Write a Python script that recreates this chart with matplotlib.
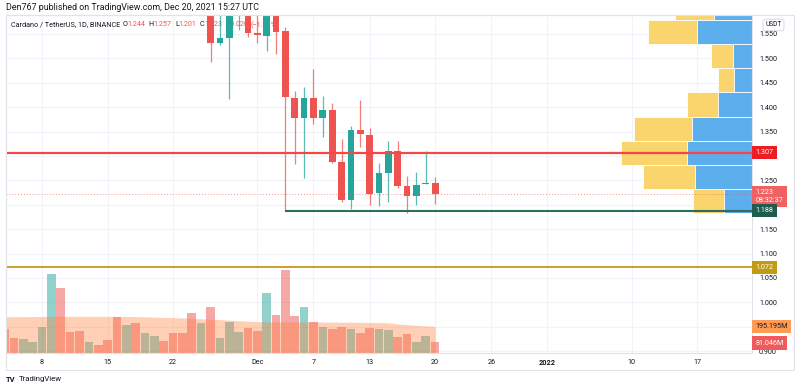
import numpy as np
import matplotlib
matplotlib.use("Agg")
import matplotlib.pyplot as plt
import matplotlib.dates as mdates
from matplotlib.transforms import Affine2D, blended_transform_factory, offset_copy
from matplotlib.patches import Rectangle

plt.rcParams['font.family'] = ['Roboto', 'DejaVu Sans']

# ADA/USDT daily candles that reach into the visible price range
candle_dates = np.arange('2021-11-26', '2021-12-21', dtype='datetime64[D]')
opens = [1.620, 1.531, 1.541, 1.600, 1.625, 1.553, 1.546, 1.600, 1.557, 1.418, 1.377, 1.419, 1.377,
         1.395, 1.287, 1.210, 1.353, 1.344, 1.224, 1.266, 1.310, 1.239, 1.218, 1.242, 1.244]
highs = [1.660, 1.600, 1.620, 1.660, 1.640, 1.600, 1.620, 1.630, 1.565, 1.434, 1.441, 1.478, 1.422,
         1.409, 1.334, 1.361, 1.415, 1.357, 1.285, 1.331, 1.331, 1.258, 1.267, 1.311, 1.257]
lows = [1.493, 1.528, 1.416, 1.558, 1.543, 1.531, 1.516, 1.508, 1.188, 1.284, 1.255, 1.365, 1.338,
        1.286, 1.206, 1.191, 1.319, 1.200, 1.198, 1.205, 1.234, 1.183, 1.200, 1.242, 1.201]
closes = [1.532, 1.541, 1.600, 1.625, 1.553, 1.547, 1.600, 1.555, 1.420, 1.377, 1.419, 1.377, 1.395,
          1.288, 1.210, 1.353, 1.345, 1.222, 1.266, 1.310, 1.239, 1.217, 1.241, 1.244, 1.223]

# volume (millions USDT), 1 = up day
vol_dates = np.arange('2021-11-04', '2021-12-21', dtype='datetime64[D]')
volumes = [173, 107, 102, 80, 190, 577, 477, 151, 161, 80, 58, 93, 265, 207, 219, 146, 124, 88,
           146, 146, 290, 217, 336, 107, 228, 155, 185, 158, 440, 277, 608, 270, 336, 226, 188,
           173, 190, 177, 148, 183, 173, 168, 117, 139, 80, 122, 81.046]
vol_up = [0, 0, 1, 1, 1, 1, 0, 0, 0, 1, 0, 0, 0, 1, 0, 1, 1, 0, 0, 0, 0, 1, 0, 1, 1, 1, 0, 0, 1,
          0, 0, 0, 1, 0, 1, 0, 0, 1, 0, 0, 1, 1, 0, 0, 1, 1, 0]
vol_ma = [265, 265, 266, 266, 267, 267, 268, 268, 268, 268, 268, 268, 267, 267, 266,
          264, 262, 260, 258, 256, 253, 250,
          247, 244, 240, 236, 232, 229, 228,
          228, 228, 227, 227, 227, 226, 226, 225, 225, 224, 223, 222, 221,
          212, 207, 203, 199, 195.195]

# visible range volume profile (rows from the bottom), relative volume
vp_low = 1.1826
vp_step = 0.0495
vp_total = [59.3, 109, 131.3, 118.3, 65.3, 33.7, 40.7, 104.3, 77]
vp_up = [28, 57, 65.3, 59.7, 33.7, 18, 18.7, 54.7, 37.7]
vp_span = 746

# levels
resistance = 1.307
support = 1.188
lower_level = 1.072
last_price = 1.223

tick_dates = np.array(['2021-11-08', '2021-11-15', '2021-11-22', '2021-12-01', '2021-12-07',
                       '2021-12-13', '2021-12-20', '2021-12-26', '2022-01-01', '2022-01-10',
                       '2022-01-17'], dtype='datetime64[D]')
tick_labels = ['8', '15', '22', 'Dec', '7', '13', '20', '26', '2022', '10', '17']
price_ticks = [0.90, 0.95, 1.00, 1.05, 1.10, 1.15, 1.20, 1.25, 1.30, 1.35, 1.40, 1.45, 1.50, 1.55]
hidden_ticks = [0.95, 1.20, 1.30]  # covered by the axis tags

RED = '#EF5350'
GREEN = '#26A69A'
TXT = '#131722'
W, H = 800, 390


def px(x, y):
    return x / W, 1 - y / H


fig = plt.figure(figsize=(8, 3.9), dpi=100)
fig.patch.set_facecolor('white')
ax = fig.add_axes([6 / W, (H - 353) / H, 746 / W, 338 / H])

day0 = mdates.date2num(np.datetime64('2021-11-01'))
ax.set_xlim(day0 + 3.15, day0 + 82.85)
ax.set_ylim(0.8963, 1.5889)
ax.set_autoscale_on(False)

ax.set_axisbelow(True)
ax.grid(True, color='#f0f3fa', lw=0.8)
for s in ax.spines.values():
    s.set_color('#e0e3eb')
    s.set_linewidth(0.8)

# volume profile on the right side
vp_x = Affine2D().scale(-1.0 / vp_span, 1.0).translate(1.0, 0.0) + ax.transAxes
vp_trans = blended_transform_factory(vp_x, ax.transData)
centers = [vp_low + vp_step * (i + 0.5) for i in range(len(vp_total))]
ax.barh(centers, vp_total, height=vp_step, color='#FAD46C',
        edgecolor='white', linewidth=0.6, transform=vp_trans, zorder=1)
ax.barh(centers, vp_up, height=vp_step, color='#5DAEEC',
        edgecolor='white', linewidth=0.6, transform=vp_trans, zorder=1.1)

# volume bars + MA area
vol_span = 2470
v_trans = blended_transform_factory(ax.transData, Affine2D().scale(1.0, 1.0 / vol_span) + ax.transAxes)
vx = mdates.date2num(vol_dates)
vcols = [GREEN if u else RED for u in vol_up]
ax.bar(vx, volumes, width=0.92, color=vcols, alpha=0.5, transform=v_trans, zorder=2)
ax.fill_between(vx, 0, vol_ma, color='#FF7F3A', alpha=0.37, lw=0, transform=v_trans, zorder=2.2)

# candles
cx = mdates.date2num(candle_dates)
for x, o, h, l, c in zip(cx, opens, highs, lows, closes):
    col = GREEN if c >= o else RED
    ax.vlines(x, l, h, color=col, lw=0.9, alpha=0.75, zorder=3)
    body = max(abs(c - o), 0.002)
    ax.bar(x, body, bottom=min(o, c), width=0.72, color=col, zorder=3.1)

# horizontal levels
ax.axhline(resistance, color='#F44848', lw=1.6, zorder=4)
ax.hlines(support, mdates.date2num(np.datetime64('2021-12-04')), ax.get_xlim()[1],
          color='#2F6B5E', lw=1.5, zorder=4)
ax.axhline(lower_level, color='#C49A1A', lw=1.3, zorder=4)
ax.axhline(last_price, color=RED, lw=0.7, ls=(0, (1, 2)), alpha=0.6, zorder=4)

# axes ticks
ax.set_xticks(mdates.date2num(tick_dates))
ax.set_xticklabels(tick_labels)
for lab in ax.get_xticklabels():
    if lab.get_text() == '2022':
        lab.set_fontweight('bold')
ax.yaxis.tick_right()
ax.set_yticks(price_ticks)
ax.set_yticklabels(['' if p in hidden_ticks else '%.3f' % p for p in price_ticks])
ax.tick_params(axis='both', length=0, labelsize=5.2, colors=TXT)
ax.tick_params(axis='x', pad=4)
ax.tick_params(axis='y', pad=5)

# price / volume labels on the axis
lab_x = offset_copy(blended_transform_factory(ax.transAxes, ax.transData), fig, x=3.5, units='dots')
lab_v = offset_copy(blended_transform_factory(ax.transAxes, v_trans), fig, x=3.5, units='dots')


def tag(y, s, fc, tc='white', trans=lab_x):
    ax.text(1.0, y, s, transform=trans, ha='left', va='center', fontsize=5.2, color=tc,
            bbox=dict(boxstyle='square,pad=0.45', fc=fc, ec='none'), zorder=10, clip_on=False)


tag(resistance, '%.3f' % resistance, '#EE1D23')
tag(last_price - 0.006, '%.3f\n08:32:37' % last_price, '#F06262')
tag(support, '%.3f' % support, '#1E5C4E')
tag(lower_level, '%.3f' % lower_level, '#C29A14')
tag(vol_ma[-1], '%.3fM' % vol_ma[-1], '#FF9B55', tc=TXT, trans=lab_v)
tag(volumes[-1] - 8, '%.3fM' % volumes[-1], '#F05A5A', trans=lab_v)

# USDT box
fig.text(*px(773.5, 25), 'USDT', ha='center', va='center', fontsize=4.8, color=TXT,
         bbox=dict(boxstyle='round,pad=0.35,rounding_size=0.3', fc='white', ec='#d1d4dc', lw=0.6))

# outer widget border
fig.add_artist(Rectangle(px(6, 370), 788 / W, 355 / H, fill=False, ec='#e0e3eb', lw=0.8,
                         transform=fig.transFigure))

# header
fig.text(*px(6, 7), 'Den767 published on TradingView.com, Dec 20, 2021 15:27 UTC',
         fontsize=6.4, color=TXT, va='center')

legend = [(10.7, 'Cardano / TetherUS, 1D, BINANCE', TXT), (122.7, 'O', TXT), (127.3, '1.244', RED),
          (148.7, 'H', TXT), (153.3, '1.257', RED), (175.3, 'L', TXT), (178.7, '1.201', RED),
          (200, 'C', TXT), (204.7, '1.223', RED), (226.7, '−0.020', RED), (251, '(−1.61%)', RED)]
for x, s, c in legend:
    ax.text(*px(x, 25), s, transform=fig.transFigure, fontsize=5.2, color=c, va='center',
            zorder=2.9)

# footer logo
fig.text(*px(6, 379), 'TV', fontsize=5.5, fontweight='bold', color=TXT, va='center')
fig.text(*px(19, 379), 'TradingView', fontsize=5.6, color=TXT, va='center')

fig.savefig('out.png', dpi=100, facecolor='white')
